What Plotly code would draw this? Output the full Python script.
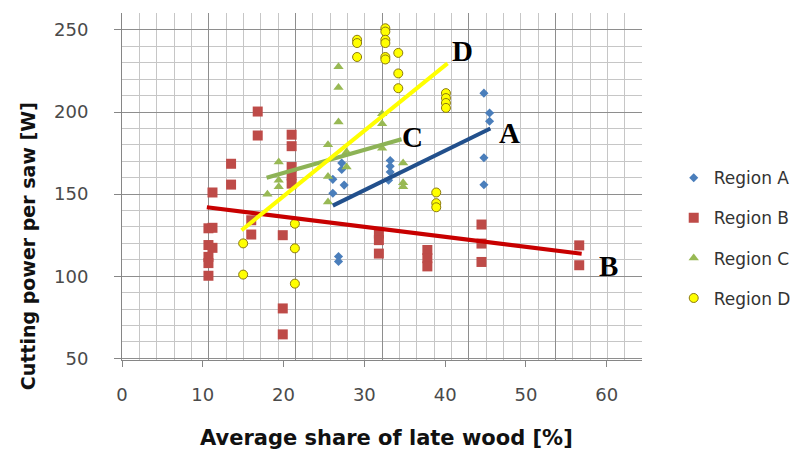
import plotly.graph_objects as go

# ---------------- data ----------------
a_x = [27.2, 27.2, 26.1, 27.5, 26.1, 26.8, 26.8, 33.2, 33.2, 33.2, 33.0, 44.8, 45.5, 45.5, 44.8, 44.8]
a_y = [169, 165, 159, 155.5, 150.5, 112, 109, 170.5, 167, 163.5, 158.5, 211.5, 199.4, 194.4, 172.2, 155.7]

b_x = [11.2, 10.7, 11.2, 10.7, 11.2, 10.7, 10.7, 10.7, 13.5, 13.5, 16.8, 16.8, 16.0, 16.0,
       21.0, 21.0, 21.0, 21.0, 21.0, 19.9, 19.9, 19.9, 31.8, 31.8, 31.8, 37.8, 37.8, 37.8,
       44.5, 44.5, 44.5, 56.6, 56.6]
b_y = [151, 129.2, 129.5, 119, 117.3, 111.8, 108, 100.3, 168.5, 155.8, 200.3, 185.7, 134.1, 125.4,
       186.2, 179.2, 166.5, 161.4, 156.4, 125, 80.4, 64.6, 126, 122, 113.8, 116, 111, 106,
       131.5, 119.9, 108.7, 118.8, 106.7]

c_x = [19.4, 19.4, 19.4, 18.0, 25.5, 25.5, 25.5, 26.8, 26.8, 26.8, 27.8, 27.8, 32.2, 32.2, 32.2,
       34.8, 34.8, 34.8]
c_y = [169.5, 158.5, 154.5, 150, 180, 160.7, 145.2, 227.6, 215, 194, 175.6, 166.5, 199, 192.9, 178,
       169, 157, 154.5]

d_x = [15.0, 15.0, 21.4, 21.4, 21.4, 29.1, 29.1, 29.1, 32.6, 32.6, 32.6, 32.6, 32.6, 32.6,
       34.2, 34.2, 34.2, 40.1, 40.1, 40.1, 40.1, 38.9, 38.9, 38.9]
d_y = [120, 101, 132, 117, 95.5, 244, 242, 233.5, 251, 249, 244, 242, 233.5, 232,
       236, 223.5, 214.5, 211.5, 208.5, 205.5, 202.5, 151, 144.5, 142]

# trend line end points
trend_a_x, trend_a_y = [26.1, 45.6], [143, 190]
trend_b_x, trend_b_y = [10.5, 56.9], [142, 113.7]
trend_c_x, trend_c_y = [17.9, 34.6], [160, 183.4]
trend_d_x, trend_d_y = [14.8, 40.3], [128, 229.6]

# trend labels
label_text = ["A", "B", "C", "D"]
label_x = [48.0, 60.2, 35.9, 42.1]
label_y = [187, 106, 185, 237]

x_ticks = [0, 10, 20, 30, 40, 50, 60]
y_ticks = [50, 100, 150, 200, 250]

# ---------------- figure ----------------
fig = go.Figure()

series = [
    ("Region A", a_x, a_y, dict(symbol="diamond", size=7, color="#4A7EBB")),
    ("Region B", b_x, b_y, dict(symbol="square", size=10, color="#BE4B48")),
    ("Region C", c_x, c_y, dict(symbol="triangle-up", size=9, color="#98B954")),
    ("Region D", d_x, d_y, dict(symbol="circle", size=9, color="#FFFF00",
                                line=dict(color="#8C7A10", width=1))),
]
for name, xs, ys, mk in series:
    fig.add_trace(go.Scatter(x=xs, y=ys, mode="markers", name=name, marker=mk,
                             legendgroup=name, xaxis="x", yaxis="y"))

trends = [
    (trend_a_x, trend_a_y, "#22508C"),
    (trend_b_x, trend_b_y, "#C80000"),
    (trend_c_x, trend_c_y, "#8DB356"),
    (trend_d_x, trend_d_y, "#FFFF00"),
]
for xs, ys, col in trends:
    fig.add_trace(go.Scatter(x=xs, y=ys, mode="lines", line=dict(color=col, width=4),
                             showlegend=False, hoverinfo="skip"))

# empty trace so that the grid-only overlay axis is created
fig.add_trace(go.Scatter(x=[None], y=[None], xaxis="x2", yaxis="y", mode="markers",
                         showlegend=False, hoverinfo="skip"))

for t, lx, ly in zip(label_text, label_x, label_y):
    fig.add_annotation(x=lx, y=ly, text=t, showarrow=False, xref="x", yref="y",
                       font=dict(family="Liberation Serif", size=29, color="black", weight="bold"))

# axis titles as annotations (placed like the reference)
fig.add_annotation(text="Cutting power per saw [W]", textangle=-90, showarrow=False,
                   xref="paper", yref="paper", x=-0.182, y=0.329,
                   xanchor="center", yanchor="middle",
                   font=dict(family="DejaVu Sans", size=19, color="#111111", weight="bold"))
fig.add_annotation(text="Average share of late wood [%]", showarrow=False,
                   xref="paper", yref="paper", x=0.508, y=-0.225,
                   xanchor="center", yanchor="middle",
                   font=dict(family="DejaVu Sans", size=21, color="#111111", weight="bold"))

major_grid = "#8E8E8E"
minor_grid = "#C6C6C6"
tick_font = dict(family="DejaVu Sans", size=18, color="#4A4A4A")

# the page body has an 8px margin, so the figure is 8px smaller and margins shifted
fig.update_layout(
    width=791, height=445,
    margin=dict(l=114, r=157, t=5, b=93, autoexpand=False),
    paper_bgcolor="white", plot_bgcolor="white",
    showlegend=True,
    legend=dict(x=1.061, y=0.576, xanchor="left", yanchor="top",
                font=dict(family="DejaVu Sans", size=17, color="#333333"),
                tracegroupgap=15, itemsizing="trace"),
    xaxis=dict(range=[0, 64.37], tickvals=x_ticks, showgrid=False, zeroline=False,
               showline=True, linecolor="#868686", linewidth=1,
               ticks="outside", ticklen=6, tickcolor="#868686",
               tickfont=tick_font, ticklabelstandoff=12),
    xaxis2=dict(overlaying="x", anchor="y", range=[0, 30], dtick=5, tick0=0,
                showgrid=True, gridcolor=major_grid, gridwidth=1,
                minor=dict(dtick=1, showgrid=True, gridcolor=minor_grid, gridwidth=1),
                showticklabels=False, ticks="", zeroline=False, showline=False),
    yaxis=dict(range=[49, 260.3], tickvals=y_ticks, showgrid=True, gridcolor=major_grid,
               minor=dict(dtick=10, tick0=0, showgrid=True, gridcolor=minor_grid),
               zeroline=False, showline=True, linecolor="#868686", linewidth=1,
               ticks="outside", ticklen=7, tickcolor="#868686",
               tickfont=tick_font, ticklabelstandoff=22),
)

fig.write_html("out.html")
